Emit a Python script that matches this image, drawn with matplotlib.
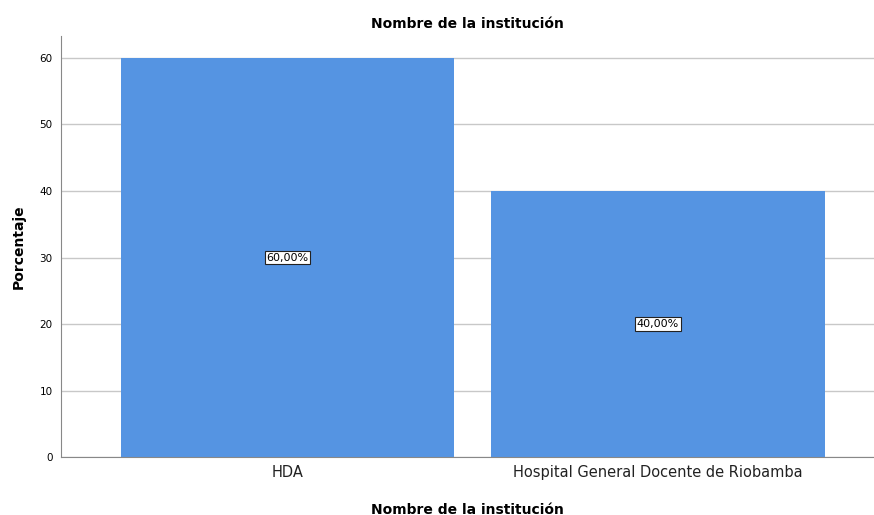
import matplotlib.pyplot as plt

categorias = ['HDA', 'Hospital General Docente de Riobamba']
porcentajes = [60.0, 40.0]
etiquetas = ['60,00%', '40,00%']

fig = plt.figure(figsize=(8.74, 5.15), dpi=100)
ax = fig.add_axes([0.0698, 0.1126, 0.9302, 0.8174])

pos = list(range(len(categorias)))
ax.bar(pos, porcentajes, width=0.9, color='#5594E2', edgecolor='none', zorder=2)

for x, v, t in zip(pos, porcentajes, etiquetas):
    ax.text(x, v / 2, t, ha='center', va='center', fontsize=8, color='black', zorder=3,
            bbox=dict(boxstyle='square,pad=0.15', facecolor='white', edgecolor='#222222', linewidth=0.8))

ax.set_xlim(-0.611, 1.583)
ax.set_ylim(0, 63.3)
ax.set_yticks([0, 10, 20, 30, 40, 50, 60])
ax.set_xticks(pos)
ax.set_xticklabels(categorias, fontsize=10.5, color='#222222')
ax.tick_params(axis='y', labelsize=7.5, length=0, pad=6)
ax.tick_params(axis='x', length=0, pad=6)
ax.yaxis.grid(True, color='#c8c8c8', linewidth=1, zorder=0)
ax.set_axisbelow(True)

for s in ['top', 'right']:
    ax.spines[s].set_visible(False)
ax.spines['left'].set_color('#888888')
ax.spines['bottom'].set_color('#888888')

ax.set_title('Nombre de la institución', fontsize=10, fontweight='bold', pad=6)
ax.set_xlabel('Nombre de la institución', fontsize=10, fontweight='bold', labelpad=16)
ax.set_ylabel('Porcentaje', fontsize=10, fontweight='bold', labelpad=10)

fig.savefig('out.png', dpi=100)
